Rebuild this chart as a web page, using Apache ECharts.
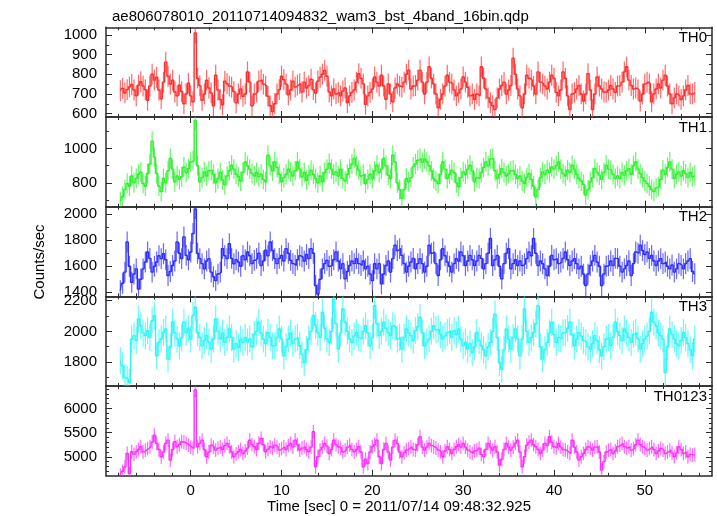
<!DOCTYPE html>
<html><head><meta charset="utf-8">
<script src="https://cdn.jsdelivr.net/npm/echarts@6/dist/echarts.min.js"></script>
<style>html,body{margin:0;padding:0;background:#fff}#c{width:717px;height:516px}</style>
</head><body><div id="c"></div>
<script>
// ---------- data ----------
const titleText = 'ae806078010_20110714094832_wam3_bst_4band_16bin.qdp';
const xLabelText = 'Time [sec] 0 = 2011/07/14 09:48:32.925';
const yLabelText = 'Counts/sec';
const panelNames = ['TH0', 'TH1', 'TH2', 'TH3', 'TH0123'];
const panelColors = ['#ff2e2e', '#2ef02e', '#2e2eff', '#2ef6f6', '#ff2eff'];
const binStart = -7.75;   // centre of first bin [s]
const binWidth = 0.25;    // bin width [s]

const th0 = [
716,728,705,722, 736,748,720,690, 745,762,740,722, 668,740,800,770,
785,720,675,760, 862,790,750,770, 710,690,745,712, 650,700,755,690,
660,1010,780,742, 668,700,770,730, 705,640,795,720, 672,645,765,752,
740,735,712,655, 700,725,688,700, 812,760,640,700, 710,765,772,750,
740,688,640,610, 650,700,722,790, 772,750,695,720, 765,735,745,752,
710,760,730,742, 775,722,705,765, 785,800,820,790, 710,690,725,700,
708,690,715,730, 656,690,708,720, 760,803,780,751, 647,690,708,725,
786,760,740,795, 740,673,751,700, 660,730,751,740, 735,760,800,821,
725,740,743,770, 821,760,700,760, 838,780,751,700, 630,673,700,740,
795,760,751,720, 690,705,725,786, 760,734,690,700, 673,700,690,838,
780,725,680,656, 640,621,680,725, 743,760,700,720, 743,882,800,725,
690,630,700,795, 780,770,740,700, 812,760,751,740, 725,760,795,780,
708,690,720,812, 780,690,621,700, 708,725,743,700, 664,700,803,720,
621,700,786,740, 725,710,708,720, 743,725,708,740, 743,760,812,838,
770,743,725,730, 720,664,700,751, 760,751,660,700, 725,751,730,770,
795,740,700,650, 680,700,690,672, 690,720,743,700, 700,708];

const th1 = [
690,720,760,796, 780,840,800,825, 850,862,796,780, 854,910,1043,950,
854,780,748,825, 800,870,942,880, 806,840,820,835, 893,860,883,922,
930,1165,900,806, 830,864,840,870, 874,850,800,825, 860,816,790,840,
870,903,880,850, 835,810,860,922, 900,880,854,840, 860,835,850,820,
806,961,900,870, 922,890,850,806, 830,850,880,864, 840,870,922,880,
835,860,815,845, 874,850,825,800, 840,806,860,880, 913,880,850,864,
840,880,825,810, 850,883,910,942, 900,874,840,850, 796,820,850,825,
870,903,860,880, 942,900,845,825, 961,922,800,760, 709,760,825,806,
830,893,910,932, 942,920,940,922, 900,870,825,810, 796,850,922,880,
825,850,874,860, 800,777,830,864, 850,880,903,870, 806,830,825,860,
890,922,900,940, 942,870,825,850, 883,860,840,854, 870,874,850,825,
840,810,796,830, 854,820,780,718, 760,830,864,850, 874,860,893,880,
900,922,880,854, 840,874,860,903, 880,850,825,810, 790,728,760,806,
830,883,860,845, 820,860,903,880, 874,850,825,840, 825,860,845,870,
883,850,900,922, 880,854,830,810, 796,780,760,748, 770,777,820,874,
850,890,922,880, 825,850,864,840, 870,854,830,860, 835,845];

const th2 = [
1413,1470,1555,1786, 1600,1477,1540,1580, 1426,1500,1580,1632, 1709,1660,1555,1600,
1632,1680,1658,1696, 1650,1529,1560,1606, 1640,1786,1700,1658, 1825,1683,1650,1709,
1851,2039,1700,1658, 1620,1580,1640,1658, 1555,1520,1490,1540, 1555,1735,1680,1658,
1773,1660,1619,1650, 1632,1600,1680,1650, 1709,1680,1620,1645, 1660,1700,1606,1640,
1722,1680,1786,1720, 1658,1620,1660,1683, 1640,1735,1700,1645, 1620,1606,1650,1680,
1670,1640,1690,1658, 1735,1700,1452,1387, 1500,1580,1620,1645, 1600,1606,1650,1709,
1640,1580,1620,1503, 1560,1606,1640,1620, 1658,1620,1606,1640, 1580,1600,1540,1490,
1619,1580,1620,1465, 1540,1606,1640,1555, 1658,1761,1720,1735, 1683,1620,1555,1600,
1632,1660,1580,1620, 1658,1620,1555,1600, 1761,1700,1709,1620, 1529,1650,1735,1680,
1632,1600,1555,1620, 1658,1640,1709,1680, 1606,1640,1683,1650, 1606,1640,1683,1660,
1580,1620,1700,1812, 1606,1650,1683,1600, 1503,1620,1700,1735, 1580,1620,1650,1606,
1640,1606,1620,1658, 1709,1680,1812,1700, 1606,1640,1619,1580, 1529,1600,1683,1650,
1658,1620,1632,1660, 1709,1650,1606,1640, 1658,1620,1580,1600, 1540,1452,1540,1606,
1640,1683,1632,1600, 1452,1540,1600,1606, 1640,1606,1660,1658, 1600,1555,1580,1606,
1640,1529,1620,1709, 1700,1761,1720,1690, 1709,1660,1683,1640, 1606,1640,1658,1620,
1632,1600,1580,1610, 1555,1580,1620,1606, 1580,1620,1640,1658, 1560,1542];

const th3 = [
1808,1775,1700,1687, 1666,1950,1972,1940, 2081,2037,1990,1972, 2004,1960,2070,2103,
1840,1928,1950,1993, 2015,1819,1900,2059, 1990,1950,1906,1960, 2059,1993,2020,1950,
2103,2157,1993,1960, 1906,1940,1972,1930, 1884,1950,2081,2000, 1950,1990,1928,1960,
2015,1960,1884,1920, 1895,1950,1928,1960, 1930,1950,1900,1982, 2000,2059,1990,1950,
1920,1993,1960,1906, 1906,1960,2015,1950, 1840,1900,1950,1990, 1920,1950,1960,1906,
1850,1797,1880,1950, 2000,2103,2040,1993, 1960,2125,2020,1950, 1928,2000,2212,2050,
1884,1990,2146,2059, 2000,1950,1928,1970, 1993,1960,1950,2000, 2037,1990,1906,1960,
2168,2050,1972,2000, 2059,2020,1993,1972, 2037,2026,1950,1960, 1884,1960,2015,1990,
1972,1940,2004,2030, 2092,1990,1906,1930, 1950,2000,2037,2010, 2015,1980,1950,1970,
1993,2004,1960,2004, 1980,2015,1950,1906, 1930,1884,1920,1862, 1900,1993,1940,1906,
1880,1840,1900,1928, 2000,2114,1960,1797, 1753,1880,2015,1950, 1884,1960,2015,1950,
1840,1950,2146,2000, 1928,1960,1993,2050, 2168,1900,1819,1880, 1928,1990,2059,1980,
1928,1960,1950,1990, 1993,2020,2059,1980, 1906,1950,1993,1970, 1940,1928,1900,1884,
1920,1972,1940,1880, 1840,1900,1950,1960, 1906,1960,2059,2000, 1972,1940,2015,1990,
1960,1928,1980,1993, 1950,1884,1920,1950, 1970,2000,2125,2060, 2037,1990,1972,1950,
1731,1900,2015,1980, 1950,1920,1906,1940, 1993,1960,1920,1880, 1840,1950];

const th0123 = [
4620,4700,4793,5069, 4655,5103,5050,5103, 5150,5207,5100,5138, 5170,5207,5300,5448,
5276,5150,5000,5100, 5276,5345,4931,5150, 5310,5207,5250,5310, 5300,5276,5241,5200,
5172,6379,5207,5280, 5345,5150,5000,5100, 5241,5200,5138,5180, 5207,5150,5230,5276,
5207,5100,5000,5060, 5103,5150,5069,5120, 5180,5345,5250,5207, 5150,5280,5379,5250,
5103,5150,5207,5180, 5241,5200,5138,5170, 5207,5150,5230,5276, 5200,5345,5250,5138,
5180,5207,5150,5103, 5200,5517,4793,5000, 5138,5200,5276,5220, 5069,5150,5345,5250,
5207,5180,5100,5138, 5200,5241,5150,5103, 5150,5207,5100,4793, 4950,4862,5100,5207,
5250,5345,5000,4862, 5150,5276,5100,4931, 5200,5345,5276,5100, 5000,5080,5138,5170,
5207,5150,5138,5250, 5414,5200,5138,5200, 5276,5230,5207,5180, 5138,5100,5000,5120,
5207,5150,5069,5150, 5207,5250,5200,5276, 5200,5138,5100,5069, 5120,5138,5180,5050,
5000,5150,5276,5200, 5138,5207,5100,4827, 4950,5150,5276,5200, 5138,5200,5280,5345,
5100,4793,5000,5241, 5300,5345,5250,5207, 5150,5069,5138,5276, 5230,5414,5300,5207,
5180,5276,5200,5150, 5138,5100,5069,5345, 5200,5100,4931,5000, 5069,5150,5207,5180,
5138,5200,5207,5100, 4724,4900,5100,5138, 5150,5069,5120,5207, 5240,5276,5207,5180,
5207,5138,5170,5250, 5345,5250,5207,5180, 5138,5170,5207,5150, 5069,5120,5172,5138,
5069,5100,5138,5080, 5000,5080,5207,5150, 5069,5100,5000,5050, 5034,5050];

const panelValues = [th0, th1, th2, th3, th0123];
const errHalf = [53, 58, 80, 88, 143];   // typical 1-sigma half length of error bars

const xRange = [-9.33, 57.4];
const yRanges = [[582.6, 1039], [660, 1185], [1369, 2056], [1643, 2228], [4607, 6461]];
const xMajorTicks = [0, 10, 20, 30, 40, 50];
const xMinorTicks = [-8, -6, -4, -2, 2, 4, 6, 8, 12, 14, 16, 18, 22, 24, 26, 28, 32, 34, 36, 38, 42, 44, 46, 48, 52, 54, 56];
const yMajorTicks = [[600, 700, 800, 900, 1000], [800, 1000], [1400, 1600, 1800, 2000], [1800, 2000, 2200], [5000, 5500, 6000]];
const yMinorTicks = [[650, 750, 850, 950], [700, 900, 1100], [1500, 1700, 1900], [1700, 1900, 2100],
  [4700, 4800, 4900, 5100, 5200, 5300, 5400, 5600, 5700, 5800, 5900, 6100, 6200, 6300, 6400]];

// ---------- layout ----------
const FONT = '"Liberation Sans", Arial, Helvetica, sans-serif';
const gridLeft = 106, gridRight = 5, panelTop = 27.3, panelH = 89.7;
const frameColor = '#2a2a2a';

const grids = [], xAxes = [], yAxes = [], series = [], graphics = [];
for (let i = 0; i < 5; i++) {
  grids.push({ left: gridLeft, right: gridRight, top: panelTop + i * panelH, height: panelH });
  const mk = (pos, major, isX) => {
    const o = {
      gridIndex: i, type: 'value', position: pos,
      min: isX ? xRange[0] : yRanges[i][0], max: isX ? xRange[1] : yRanges[i][1],
      splitLine: { show: false },
      axisLine: { show: major, onZero: false, lineStyle: { color: frameColor, width: 1.5 } },
      axisTick: { show: true, inside: true, length: major ? 6 : 3,
        customValues: isX ? (major ? xMajorTicks : xMinorTicks) : (major ? yMajorTicks[i] : yMinorTicks[i]),
        lineStyle: { color: frameColor, width: 1 } },
      axisLabel: { show: false }
    };
    const showLab = major && ((isX && pos === 'bottom' && i === 4) || (!isX && pos === 'left'));
    if (showLab) {
      o.axisLabel = { show: true, customValues: isX ? xMajorTicks : yMajorTicks[i], margin: isX ? 8 : 9,
        color: '#000', fontSize: 15, fontFamily: FONT, formatter: v => String(v),
        showMinLabel: true, showMaxLabel: true, hideOverlap: false };
    }
    return o;
  };
  xAxes.push(mk('bottom', true, true), mk('bottom', false, true), mk('top', true, true), mk('top', false, true));
  yAxes.push(mk('left', true, false), mk('left', false, false), mk('right', true, false), mk('right', false, false));

  const vals = panelValues[i];
  const pts = vals.map((v, k) => [binStart + k * binWidth, v]);
  const col = panelColors[i];
  const eh = errHalf[i];
  series.push({
    type: 'custom', xAxisIndex: 4 * i, yAxisIndex: 4 * i, data: pts, clip: true, silent: true,
    renderItem: (params, api) => {
      const t = api.value(0), v = api.value(1);
      const a = api.coord([t, v - eh]), b = api.coord([t, v + eh]);
      return { type: 'line', shape: { x1: a[0], y1: a[1], x2: b[0], y2: b[1] },
        style: { stroke: col, lineWidth: 1.2, opacity: 0.72 } };
    }
  });
  series.push({
    type: 'line', xAxisIndex: 4 * i, yAxisIndex: 4 * i, data: pts, step: 'middle',
    symbol: 'none', showSymbol: false, silent: true, clip: true,
    lineStyle: { color: col, width: 1.4 }
  });
  graphics.push({ type: 'text', right: 717 - 707, top: panelTop + i * panelH + 3,
    style: { text: panelNames[i], fill: '#000', font: '15px ' + FONT, textAlign: 'right' } });
}
graphics.push({ type: 'text', x: 40, y: 262, rotation: Math.PI / 2,
  style: { text: yLabelText, fill: '#000', font: '15px ' + FONT, textAlign: 'center', textVerticalAlign: 'middle' } });
graphics.push({ type: 'text', x: 399, y: 507,
  style: { text: xLabelText, fill: '#000', font: '15px ' + FONT, textAlign: 'center', textVerticalAlign: 'middle' } });

const chart = echarts.init(document.getElementById('c'), null, { renderer: 'canvas' });
chart.setOption({
  animation: false,
  backgroundColor: '#fff',
  title: { text: titleText, left: 107, top: 4, textStyle: { fontSize: 15, fontWeight: 'normal', color: '#000', fontFamily: FONT } },
  grid: grids, xAxis: xAxes, yAxis: yAxes, series: series, graphic: graphics
});
</script></body></html>
